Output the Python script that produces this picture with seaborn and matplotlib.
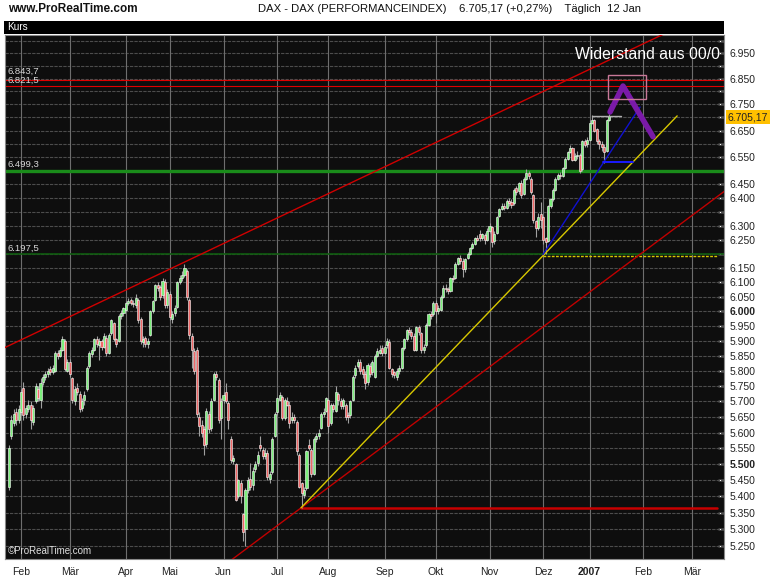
import numpy as np
import pandas as pd
import matplotlib
matplotlib.use("Agg")
import matplotlib.pyplot as plt
import seaborn as sns
from matplotlib.patches import Rectangle
from matplotlib.ticker import NullLocator

sns.set_theme(style="dark")
plt.rcParams["font.family"] = ["Liberation Sans", "DejaVu Sans"]

# === Daten: DAX Tageskerzen 25.01.2006 - 12.01.2007 ===
opens = [5430, 5590, 5630, 5665, 5640,
         5665, 5745, 5660, 5675, 5690, 5635, 5700, 5740, 5705, 5765,
         5780, 5790, 5805, 5795, 5800, 5860, 5850, 5870, 5900, 5800,
         5830, 5775, 5700, 5745, 5725, 5680, 5705, 5740, 5815, 5855,
         5870, 5905, 5885, 5900, 5880, 5910, 5860, 5925, 5960, 5905,
         5900, 5985, 5995, 6005, 6030, 6040, 6030, 6020, 6040, 5975,
         5895, 5910, 5890, 5920, 6000, 6040, 6090, 6085, 6055, 6100,
         6020, 6060, 5975, 5995, 6015, 6100, 6115, 6125, 6140, 6040,
         5915, 5865, 5870, 5650, 5625, 5610, 5565, 5660, 5615, 5705,
         5790, 5770, 5645, 5705, 5730, 5695, 5580, 5510, 5500, 5400,
         5440, 5345, 5300, 5420, 5455, 5435, 5485, 5505, 5560, 5545,
         5525, 5535, 5455, 5475, 5590, 5665, 5705, 5715, 5645, 5700,
         5690, 5640, 5650, 5635, 5530, 5440, 5405, 5425, 5560, 5545,
         5470, 5580, 5590, 5615, 5660, 5670, 5705, 5630, 5690, 5670,
         5725, 5700, 5685, 5690, 5655, 5655, 5705, 5785, 5815, 5830,
         5805, 5790, 5765, 5815, 5795, 5780, 5850, 5860, 5875, 5860,
         5885, 5895, 5805, 5795, 5780, 5800, 5810, 5875, 5905, 5935,
         5930, 5915, 5870, 5945, 5925, 5870, 5885, 5955, 5990, 5990,
         6030, 6000, 6005, 6050, 6080, 6075, 6070, 6115, 6115, 6165,
         6185, 6175, 6145, 6185, 6200, 6220, 6235, 6255, 6270, 6255,
         6265, 6250, 6280, 6295, 6245, 6275, 6335, 6360, 6370, 6365,
         6390, 6385, 6380, 6435, 6425, 6455, 6415, 6470, 6490, 6470,
         6410, 6315, 6290, 6340, 6330, 6255, 6245, 6370, 6395, 6430,
         6470, 6485, 6480, 6510, 6545, 6570, 6585, 6540, 6555, 6560,
         6505, 6610, 6600, 6615, 6680, 6690, 6655, 6610, 6600, 6590,
         6575, 6690]
highs = [5560, 5655, 5675, 5680, 5690,
         5740, 5765, 5690, 5705, 5700, 5690, 5760, 5750, 5775, 5790,
         5800, 5810, 5815, 5820, 5865, 5870, 5880, 5915, 5905, 5840,
         5840, 5780, 5750, 5760, 5735, 5710, 5735, 5815, 5865, 5880,
         5910, 5915, 5910, 5905, 5925, 5920, 5925, 5975, 5965, 5910,
         5990, 6005, 6015, 6035, 6045, 6045, 6040, 6060, 6045, 5980,
         5915, 5915, 5910, 6005, 6040, 6095, 6100, 6090, 6115, 6110,
         6075, 6070, 6000, 6020, 6105, 6125, 6140, 6165, 6145, 6045,
         5925, 5875, 5880, 5665, 5640, 5620, 5680, 5670, 5710, 5795,
         5800, 5775, 5710, 5730, 5760, 5700, 5590, 5530, 5505, 5455,
         5450, 5350, 5425, 5460, 5505, 5490, 5510, 5540, 5590, 5555,
         5550, 5545, 5480, 5585, 5665, 5715, 5730, 5720, 5710, 5715,
         5700, 5665, 5660, 5640, 5535, 5445, 5430, 5545, 5580, 5550,
         5585, 5600, 5610, 5665, 5680, 5715, 5710, 5695, 5695, 5750,
         5730, 5710, 5710, 5695, 5665, 5705, 5785, 5820, 5840, 5840,
         5815, 5800, 5825, 5825, 5835, 5855, 5875, 5885, 5885, 5890,
         5910, 5905, 5810, 5800, 5810, 5820, 5880, 5910, 5940, 5945,
         5940, 5925, 5950, 5955, 5930, 5890, 5960, 5995, 6000, 6035,
         6040, 6020, 6055, 6090, 6095, 6085, 6120, 6125, 6170, 6190,
         6195, 6185, 6185, 6205, 6225, 6240, 6260, 6265, 6285, 6275,
         6275, 6290, 6310, 6300, 6280, 6335, 6365, 6380, 6380, 6395,
         6400, 6395, 6435, 6445, 6460, 6465, 6475, 6505, 6500, 6475,
         6415, 6320, 6345, 6385, 6335, 6260, 6375, 6400, 6435, 6475,
         6490, 6495, 6515, 6550, 6575, 6595, 6590, 6565, 6575, 6565,
         6615, 6620, 6625, 6690, 6710, 6695, 6660, 6620, 6610, 6600,
         6695, 6715]
lows = [5420, 5580, 5620, 5625, 5630,
        5655, 5640, 5645, 5665, 5610, 5625, 5695, 5700, 5680, 5755,
        5770, 5780, 5785, 5790, 5795, 5840, 5845, 5865, 5800, 5795,
        5780, 5695, 5690, 5720, 5665, 5670, 5690, 5735, 5810, 5845,
        5865, 5880, 5835, 5870, 5875, 5850, 5855, 5920, 5900, 5880,
        5895, 5975, 5985, 6000, 6020, 6020, 6015, 6010, 5960, 5890,
        5880, 5880, 5875, 5915, 5995, 6035, 6070, 6040, 6045, 6010,
        6010, 5970, 5960, 5985, 6010, 6095, 6105, 6120, 6040, 5905,
        5810, 5790, 5650, 5590, 5585, 5530, 5555, 5600, 5605, 5700,
        5770, 5630, 5580, 5695, 5695, 5610, 5505, 5500, 5385, 5395,
        5380, 5265, 5250, 5410, 5420, 5420, 5475, 5495, 5540, 5515,
        5515, 5450, 5440, 5470, 5585, 5655, 5700, 5640, 5640, 5685,
        5615, 5630, 5630, 5530, 5425, 5365, 5395, 5420, 5545, 5460,
        5465, 5570, 5580, 5610, 5650, 5665, 5600, 5625, 5665, 5665,
        5690, 5675, 5675, 5640, 5630, 5645, 5700, 5775, 5810, 5790,
        5775, 5740, 5755, 5780, 5785, 5775, 5845, 5855, 5850, 5855,
        5875, 5805, 5780, 5775, 5770, 5790, 5805, 5870, 5900, 5920,
        5905, 5865, 5865, 5920, 5860, 5860, 5880, 5950, 5975, 5985,
        5960, 5990, 6000, 6045, 6065, 6060, 6065, 6100, 6110, 6160,
        6165, 6120, 6135, 6180, 6195, 6215, 6230, 6245, 6245, 6250,
        6235, 6245, 6275, 6225, 6235, 6270, 6330, 6355, 6355, 6360,
        6370, 6365, 6375, 6410, 6415, 6400, 6410, 6465, 6470, 6415,
        6310, 6260, 6285, 6290, 6235, 6200, 6240, 6365, 6390, 6425,
        6465, 6470, 6475, 6505, 6540, 6565, 6535, 6535, 6545, 6490,
        6500, 6590, 6590, 6610, 6675, 6645, 6600, 6580, 6575, 6530,
        6570, 6685]
closes = [5550, 5640, 5660, 5640, 5674,
          5730, 5655, 5680, 5690, 5640, 5680, 5750, 5710, 5760, 5780,
          5790, 5800, 5795, 5810, 5860, 5850, 5870, 5905, 5805, 5830,
          5790, 5705, 5740, 5730, 5675, 5700, 5720, 5810, 5860, 5870,
          5905, 5890, 5900, 5880, 5915, 5860, 5920, 5970, 5905, 5890,
          5985, 5995, 6010, 6030, 6035, 6030, 6025, 6045, 5970, 5900,
          5905, 5890, 5900, 6000, 6035, 6090, 6080, 6050, 6105, 6020,
          6065, 5980, 5990, 6010, 6100, 6115, 6125, 6150, 6050, 5920,
          5870, 5800, 5660, 5620, 5600, 5560, 5670, 5610, 5700, 5790,
          5780, 5640, 5700, 5720, 5700, 5640, 5513, 5520, 5390, 5450,
          5400, 5292, 5420, 5450, 5430, 5480, 5500, 5530, 5550, 5525,
          5535, 5460, 5470, 5580, 5660, 5710, 5720, 5645, 5705, 5690,
          5630, 5650, 5640, 5540, 5430, 5410, 5420, 5540, 5550, 5470,
          5580, 5590, 5600, 5660, 5665, 5710, 5620, 5690, 5675, 5730,
          5705, 5685, 5705, 5650, 5650, 5700, 5780, 5810, 5830, 5800,
          5790, 5760, 5820, 5790, 5830, 5850, 5865, 5870, 5860, 5880,
          5900, 5810, 5790, 5785, 5800, 5810, 5875, 5905, 5935, 5930,
          5915, 5870, 5945, 5930, 5870, 5880, 5955, 5990, 5985, 6030,
          6000, 6010, 6050, 6080, 6075, 6070, 6115, 6110, 6165, 6185,
          6175, 6145, 6180, 6200, 6220, 6235, 6255, 6250, 6255, 6270,
          6250, 6280, 6300, 6240, 6270, 6330, 6360, 6370, 6365, 6390,
          6380, 6375, 6430, 6420, 6455, 6410, 6470, 6490, 6480, 6420,
          6320, 6290, 6330, 6320, 6250, 6240, 6370, 6395, 6430, 6470,
          6485, 6480, 6510, 6545, 6570, 6585, 6540, 6555, 6560, 6500,
          6610, 6597, 6615, 6680, 6690, 6650, 6610, 6600, 6590, 6570,
          6690, 6705.17]

month_labels = ["Feb", "Mär", "Apr", "Mai", "Jun", "Jul", "Aug", "Sep",
                "Okt", "Nov", "Dez", "2007", "Feb", "Mär"]
price_ticks = list(range(5250, 7001, 50))
shown_ticks = [6950, 6850, 6750, 6650, 6550, 6450, 6400, 6300, 6250, 6150,
               6100, 6050, 6000, 5950, 5900, 5850, 5800, 5750, 5700, 5650,
               5600, 5550, 5500, 5450, 5400, 5350, 5300, 5250]
bold_ticks = [6000, 5500]

# Horizontale Linien
resist_levels = [6843.7, 6821.5]
green_level = 6499.3
support_level = 6197.5
last_price = 6705.17
july_low = 5365

# Trendlinien (Handelstag-Index, Kurs)
upper_red_x, upper_red_y = [-7, 278], [5876, 7094]
lower_red_x, lower_red_y = [83.6, 290.6], [5194, 6440]
yellow_x, yellow_y = [114.75, 268.9], [5365, 6706]
blue_x, blue_y = [213.9, 253.7], [6197, 6740]
blue_flat_x, blue_flat_y = [238.5, 250.8], [6533, 6533]
purple_x, purple_y = [241.4, 246.7, 259.0], [6721, 6821, 6627]

# === Handelskalender ===
holidays = pd.to_datetime(["2006-04-14", "2006-04-17", "2006-05-01",
                           "2006-12-25", "2006-12-26", "2007-01-01"])
days = pd.bdate_range("2006-01-25", "2007-03-30")
days = days[~days.isin(holidays)]
cal = pd.DataFrame({"date": days, "pos": np.arange(len(days)) - 5})
firsts = cal.groupby(cal["date"].dt.to_period("M"))["pos"].first()
month_pos = firsts.loc["2006-02":"2007-03"].values

n = len(closes)
x = cal["pos"].values[:n]
o = np.array(opens, float)
h = np.array(highs, float)
l = np.array(lows, float)
c = np.array(closes, float)
up = c >= o

W, H = 770, 578
fig = plt.figure(figsize=(W / 100, H / 100), dpi=100, facecolor="white")
ax = fig.add_axes([5 / W, 19 / H, 719 / W, 524 / H])
ax.set_facecolor("#0e0e0e")
ax.set_yscale("log")
ax.set_xlim(-6.56, 288.1)
ax.set_ylim(5211, 7022)

# Gitter
for p in price_ticks:
    ax.axhline(p, color="#4c4c4c", lw=0.8, ls=(0, (3, 1)), zorder=1)
for m in month_pos:
    ax.axvline(m, color="#6e6e6e", lw=0.8, zorder=1)

# Horizontale Linien
for lv in resist_levels:
    ax.axhline(lv, color="#e00000", lw=0.8, zorder=2)
ax.axhline(green_level, color="#1a8c1a", lw=2.4, zorder=2)
ax.axhline(support_level, color="#0f5c0f", lw=1.2, zorder=2)
ax.plot([213.9, 285.2], [6193, 6193], color="#d8c800", lw=1.0, ls=(0, (2, 1)), zorder=2)
ax.plot([114.75, 285.2], [july_low, july_low], color="#c80000", lw=1.8, zorder=2)

# Kerzen
ax.vlines(x, l, h, color="#a0a0a0", lw=0.8, zorder=3)
ax.bar(x[up], (c - o)[up], bottom=o[up], width=0.85, color="#7cf07c",
       edgecolor="white", linewidth=0.4, zorder=4)
ax.bar(x[~up], (o - c)[~up], bottom=c[~up], width=0.85, color="#f06868",
       edgecolor="white", linewidth=0.4, zorder=4)

# Trendlinien
sns.lineplot(x=upper_red_x, y=upper_red_y, ax=ax, color="#d00000", lw=1.0, sort=False, zorder=5)
sns.lineplot(x=lower_red_x, y=lower_red_y, ax=ax, color="#c00000", lw=1.0, sort=False, zorder=5)
sns.lineplot(x=yellow_x, y=yellow_y, ax=ax, color="#d8c800", lw=1.0, sort=False, zorder=5)
sns.lineplot(x=blue_x, y=blue_y, ax=ax, color="#1010d0", lw=1.0, sort=False, zorder=5)
sns.lineplot(x=blue_flat_x, y=blue_flat_y, ax=ax, color="#1a1aff", lw=1.4, sort=False, zorder=5)
ax.plot([234, 246], [last_price, last_price], color="#b0b0b0", lw=1.0, zorder=5)
sns.lineplot(x=purple_x, y=purple_y, ax=ax, color="#7a1aa8", lw=4.0, sort=False, zorder=6)
ax.add_patch(Rectangle((240.6, 6771), 15.5, 6864 - 6771, fill=False,
                       edgecolor="#c87898", lw=1.0, zorder=6))
ax.text(227, 6946, "Widerstand aus 00/0", color="white", fontsize=11.3,
        va="center", ha="left", zorder=7)

# Achsen
ax.yaxis.tick_right()
ax.yaxis.set_minor_locator(NullLocator())
ax.set_yticks(price_ticks)
ax.set_yticklabels([f"{p:,}".replace(",", ".") if p in shown_ticks else ""
                    for p in price_ticks])
for lab, p in zip(ax.get_yticklabels(), price_ticks):
    if p in bold_ticks:
        lab.set_fontweight("bold")
        lab.set_fontsize(8.5)
ax.tick_params(axis="y", direction="in", length=4, color="white", width=1,
               labelsize=7.5, labelcolor="#222222", pad=4)
ax.set_xticks(month_pos)
ax.set_xticklabels(month_labels)
for lab, t in zip(ax.get_xticklabels(), month_labels):
    if t == "2007":
        lab.set_fontweight("bold")
        lab.set_fontsize(9)
ax.tick_params(axis="x", direction="out", length=3, color="#555555",
               labelsize=7.5, labelcolor="#222222", pad=3)
ax.grid(False)
for s in ax.spines.values():
    s.set_color("#8a8a8a")
    s.set_linewidth(0.8)
ax.set_xlabel("")
ax.set_ylabel("")

# Beschriftungen links
def fx(px):
    return px / W

def fy(py):
    return 1 - py / H

for txt, py in [("6.843,7", 71), ("6.821,5", 80.5), ("6.499,3", 164), ("6.197,5", 248)]:
    fig.text(fx(7), fy(py), txt, color="#d8d8d8", fontsize=6.8, va="center", ha="left")
fig.text(fx(8), fy(551), "\u00a9ProRealTime.com", color="#e0e0e0", fontsize=7, va="center")

# Kursbox rechts
fig.text(fx(728), fy(117), "6.705,17", fontsize=7.5, color="#222222", va="center", ha="left",
         bbox=dict(facecolor="#ffc000", edgecolor="none", pad=1.2))

# Kopfzeile
fig.patches.append(Rectangle((fx(4), fy(34)), fx(720), 13 / H, transform=fig.transFigure,
                             facecolor="black", edgecolor="none"))
fig.text(fx(7), fy(27.5), "Kurs", color="white", fontsize=7.2, va="center")
fig.text(fx(8), fy(9), "www.ProRealTime.com", color="#111111", fontsize=8.5,
         fontweight="bold", va="center",
         family=["Liberation Sans Narrow", "Liberation Sans", "DejaVu Sans"])
fig.text(fx(258), fy(9),
         "DAX - DAX (PERFORMANCEINDEX)    6.705,17 (+0,27%)    Täglich  12 Jan",
         color="#111111", fontsize=8.1, va="center",
         family=["Liberation Sans Narrow", "Liberation Sans", "DejaVu Sans"])

fig.savefig("out.png", dpi=100, facecolor="white")
